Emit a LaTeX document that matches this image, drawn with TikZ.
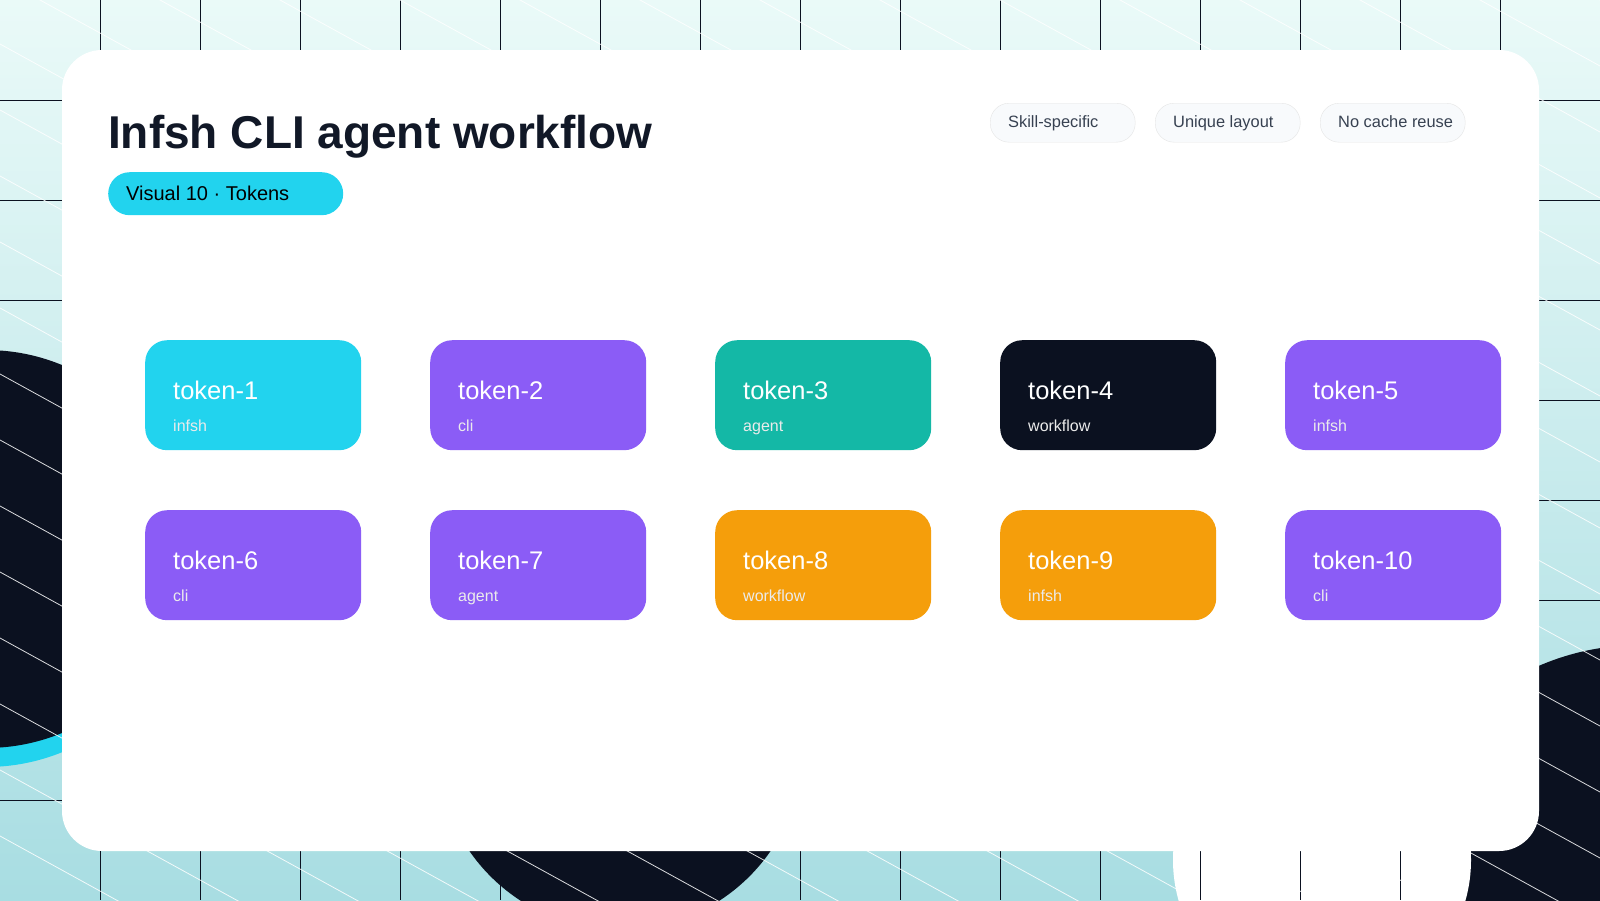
\documentclass[tikz,border=0pt]{standalone}
\usepackage{fontspec}
\setmainfont{Liberation Sans}
\begin{document}
\begin{tikzpicture}[x=1pt,y=-1pt,
  card/.style={rounded corners=22pt,minimum width=216pt,minimum height=110pt,inner sep=0pt,anchor=north west},
  ttl/.style={anchor=base west,text=white,font=\fontsize{25.5}{28}\selectfont},
  sub/.style={anchor=base west,text=white!92!black,font=\fontsize{16}{18}\selectfont},
  tag/.style={draw=gray!20,fill=slate,rounded corners=19pt,minimum width=145pt,minimum height=39pt,inner sep=0pt,anchor=north west},
  tagtext/.style={anchor=base west,inner sep=0pt,text=tagtxt,font=\fontsize{16.4}{18}\selectfont}]
\definecolor{bgtop}{HTML}{EAFAF8}
\definecolor{bgbot}{HTML}{A8DDE2}
\definecolor{navy}{HTML}{0B1120}
\definecolor{cyanc}{HTML}{22D3EE}
\definecolor{purp}{HTML}{8B5CF6}
\definecolor{tealc}{HTML}{14B8A6}
\definecolor{amber}{HTML}{F59E0B}
\definecolor{slate}{HTML}{F8FAFC}
\definecolor{tagtxt}{HTML}{374151}
\definecolor{ttlc}{HTML}{111827}
\useasboundingbox (0,0) rectangle (1600,900);
\begin{scope}
\clip (0,0) rectangle (1600,900);
\shade[top color=bgtop,bottom color=bgbot] (0,0) rectangle (1600,900);
\fill[cyanc] (-14,565) circle (202);
\fill[navy] (-14,549) circle (199);
\fill[navy] (620,747) circle (183);
\fill[navy] (1640,900) circle (255);
\fill[white] (1322,860) circle (149);
\foreach \i in {1,...,15} \draw[navy,line width=1pt] (\i*100,0) -- (\i*100,900);
\foreach \j in {1,...,8} \draw[navy,line width=1pt] (0,\j*100) -- (1600,\j*100);
\foreach \c in {-880,-814,...,900} \draw[white,opacity=0.85,line width=0.8pt] (0,\c) -- (1600,\c+880);
\end{scope}
\fill[white] (62,50) [rounded corners=40pt] rectangle (1539,851);
\node[anchor=base west,inner sep=0pt,text=ttlc,font=\fontsize{46}{50}\bfseries] (title) at (108,148) {Infsh CLI agent workflow};
\node[fill=cyanc,rounded corners=21.5pt,minimum width=235pt,minimum height=43pt,inner sep=0pt,anchor=north west] (pill) at (108,172) {};
\node[anchor=base west,inner sep=0pt,font=\fontsize{20}{22}\selectfont] (pilltext) at (126,200) {Visual 10 · Tokens};
\foreach \n/\x/\t in {1/990/Skill-specific,2/1155/Unique layout,3/1320/No cache reuse}{
  \node[tag] (t\n) at (\x,103) {};
  \node[tagtext] (t\n l) at (\x+18,127) {\t};
}
\foreach \n/\x/\y/\c/\s in {1/145/340/cyanc/infsh,2/430/340/purp/cli,3/715/340/tealc/agent,4/1000/340/navy/workflow,5/1285/340/purp/infsh,6/145/510/purp/cli,7/430/510/purp/agent,8/715/510/amber/workflow,9/1000/510/amber/infsh,10/1285/510/purp/cli}{
  \node[card,fill=\c] (k\n) at (\x,\y) {};
  \node[ttl,inner sep=0pt] (k\n t) at (\x+28,\y+59) {token-\n};
  \node[sub,inner sep=0pt] (k\n s) at (\x+28,\y+91) {\s};
}
\end{tikzpicture}
\end{document}
